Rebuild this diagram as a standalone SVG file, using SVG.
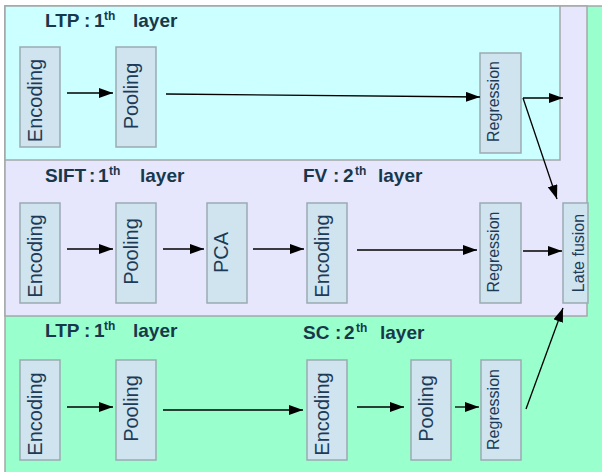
<svg xmlns="http://www.w3.org/2000/svg" width="602" height="472" viewBox="0 0 602 472">
<style>
.panel{stroke:#a4a8a8;stroke-width:1.5}
.box{fill:#cfe4ef;stroke:#9aaab2;stroke-width:1.5}
.lbl{font-family:"Liberation Sans",Arial,sans-serif;fill:#1d3b57;text-anchor:middle}
.big{font-size:20px}
.small{font-size:16px}
.ttl{font-family:"Liberation Sans",Arial,sans-serif;font-weight:bold;font-size:19px;fill:#17384a}
.sup{font-size:12px}
.con{stroke:#000;stroke-width:1.3;fill:none;marker-end:url(#ah)}
</style>
<defs>
<marker id="ah" viewBox="0 0 14 10" refX="14" refY="5" markerWidth="14" markerHeight="10" markerUnits="userSpaceOnUse" orient="auto">
<path d="M0,0 L14,5 L0,10 z" fill="#000"/>
</marker>
</defs>
<rect width="602" height="472" fill="#ffffff"/>
<g id="panels">
<rect class="panel" x="5" y="6" width="600" height="470" fill="#99ffcc"/>
<rect class="panel" x="5" y="6" width="582" height="310" fill="#e6e6fc"/>
<rect class="panel" x="5" y="6" width="555" height="154" fill="#ccffff"/>
</g>
<g id="titles">
<text class="ttl" y="27"><tspan x="45">LTP</tspan><tspan x="84">:</tspan><tspan x="94">1</tspan><tspan class="sup" x="104" dy="-7">th</tspan><tspan x="133" dy="7">layer</tspan></text>
<text class="ttl" y="182"><tspan x="45">SIFT</tspan><tspan x="89">:</tspan><tspan x="98">1</tspan><tspan class="sup" x="109" dy="-7">th</tspan><tspan x="140" dy="7">layer</tspan></text>
<text class="ttl" y="182"><tspan x="303">FV</tspan><tspan x="333">:</tspan><tspan x="343">2</tspan><tspan class="sup" x="355" dy="-7">th</tspan><tspan x="378" dy="7">layer</tspan></text>
<text class="ttl" y="337"><tspan x="45">LTP</tspan><tspan x="84">:</tspan><tspan x="94">1</tspan><tspan class="sup" x="104" dy="-7">th</tspan><tspan x="133" dy="7">layer</tspan></text>
<text class="ttl" y="339"><tspan x="303">SC</tspan><tspan x="335">:</tspan><tspan x="344">2</tspan><tspan class="sup" x="356" dy="-7">th</tspan><tspan x="380" dy="7">layer</tspan></text>
</g>
<g id="n-ltp1-enc"><rect class="box" x="20" y="47" width="40" height="100"/><text class="lbl big" transform="translate(41.5,100.5) rotate(-90)">Encoding</text></g>
<g id="n-ltp1-pool"><rect class="box" x="116" y="47" width="40" height="100"/><text class="lbl big" transform="translate(137.5,96) rotate(-90)">Pooling</text></g>
<g id="n-ltp1-reg"><rect class="box" x="480" y="53" width="41" height="100"/><text class="lbl small" transform="translate(498.5,101.5) rotate(-90)">Regression</text></g>
<g id="n-sift-enc"><rect class="box" x="20" y="203" width="40" height="100"/><text class="lbl big" transform="translate(41.5,256) rotate(-90)">Encoding</text></g>
<g id="n-sift-pool"><rect class="box" x="116" y="203" width="40" height="100"/><text class="lbl big" transform="translate(137.5,251.5) rotate(-90)">Pooling</text></g>
<g id="n-sift-pca"><rect class="box" x="207" y="203" width="40" height="100"/><text class="lbl big" transform="translate(228,252.5) rotate(-90)">PCA</text></g>
<g id="n-fv-enc"><rect class="box" x="307" y="203" width="40" height="100"/><text class="lbl big" transform="translate(328.5,256) rotate(-90)">Encoding</text></g>
<g id="n-fv-reg"><rect class="box" x="480" y="203" width="41" height="100"/><text class="lbl small" transform="translate(498.5,252) rotate(-90)">Regression</text></g>
<g id="n-late"><rect class="box" x="563" y="203" width="25" height="100"/><text class="lbl small" transform="translate(583.5,253) rotate(-90)">Late fusion</text></g>
<g id="n-ltp2-enc"><rect class="box" x="20" y="360" width="40" height="100"/><text class="lbl big" transform="translate(41.5,414) rotate(-90)">Encoding</text></g>
<g id="n-ltp2-pool"><rect class="box" x="116" y="360" width="40" height="100"/><text class="lbl big" transform="translate(137.5,408.5) rotate(-90)">Pooling</text></g>
<g id="n-sc-enc"><rect class="box" x="307" y="360" width="40" height="100"/><text class="lbl big" transform="translate(328.5,414) rotate(-90)">Encoding</text></g>
<g id="n-sc-pool"><rect class="box" x="411" y="360" width="40" height="100"/><text class="lbl big" transform="translate(432.5,408.5) rotate(-90)">Pooling</text></g>
<g id="n-sc-reg"><rect class="box" x="481" y="360" width="40" height="100"/><text class="lbl small" transform="translate(498.5,409.5) rotate(-90)">Regression</text></g>
<g id="connectors">
<line class="con" x1="67" y1="93" x2="113" y2="93"/>
<line class="con" x1="166" y1="94" x2="480" y2="97"/>
<line class="con" x1="523" y1="98" x2="563" y2="98"/>
<line class="con" x1="523" y1="98" x2="557" y2="199"/>
<line class="con" x1="67" y1="249" x2="113" y2="249"/>
<line class="con" x1="163" y1="249" x2="204" y2="249"/>
<line class="con" x1="253" y1="249" x2="304" y2="249"/>
<line class="con" x1="357" y1="250" x2="477" y2="250"/>
<line class="con" x1="523" y1="251" x2="562" y2="251"/>
<line class="con" x1="67" y1="407" x2="113" y2="407"/>
<line class="con" x1="163" y1="410" x2="303" y2="410"/>
<line class="con" x1="357" y1="407" x2="404" y2="407"/>
<line class="con" x1="455" y1="407" x2="479" y2="407"/>
<line class="con" x1="526" y1="409" x2="563" y2="308"/>
</g>
</svg>
